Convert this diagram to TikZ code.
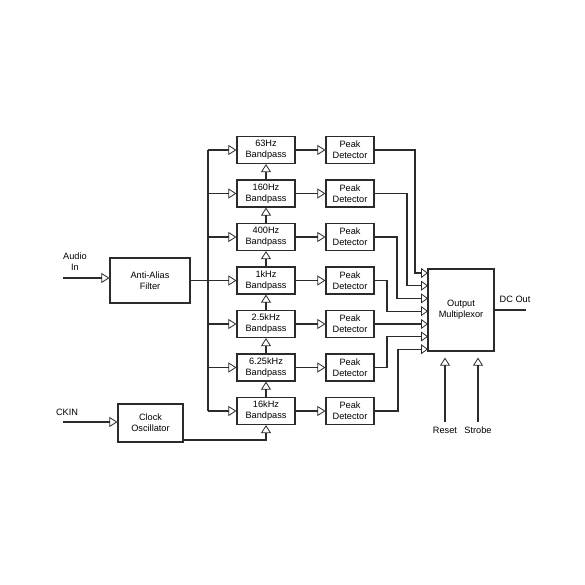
\documentclass[tikz,border=0pt]{standalone}
\usepackage{fontspec}
\setsansfont{Liberation Sans}
\usepackage{tikz}
\usetikzlibrary{arrows.meta, positioning}
\definecolor{Ink}{HTML}{2B2B2B}

\begin{document}
\begin{tikzpicture}[
  x=1pt, y=-1pt,
  font=\sffamily\fontsize{9.2}{10.8}\selectfont,
  block/.style={draw=Ink, line width=1.2pt, align=center, inner sep=0pt, fill=white},
  filt/.style={block, minimum width=58pt, minimum height=27pt},
  peak/.style={block, minimum width=48pt, minimum height=27pt},
  wire/.style={draw=Ink, line width=1.2pt},
  arrow/.style={wire, -{Triangle[open, length=8pt, width=10pt, line width=0.8pt]}},
  muxin/.style={wire, -{Triangle[open, length=7pt, width=10pt, line width=0.8pt]}}
]
\useasboundingbox[fill=white] (0,0) rectangle (585,585);

% input side
\node[block, minimum width=80pt, minimum height=45pt] (aa) at (150,280.5) {Anti-Alias\\Filter};
\node[block, minimum width=65pt, minimum height=38pt] (osc) at (150.5,423) {Clock\\Oscillator};
\node[align=center] (audiotxt) at (75,262) {Audio\\In};
\node (ckintxt) at (67,412) {CKIN};
\coordinate (audio) at (63,278);
\coordinate (ckin) at (63,422);

% filter bank
\node[filt] (bp1) at (266,150) {63Hz\\Bandpass};
\node[filt] (bp2) at (266,193.5) {160Hz\\Bandpass};
\node[filt] (bp3) at (266,237) {400Hz\\Bandpass};
\node[filt] (bp4) at (266,280.5) {1kHz\\Bandpass};
\node[filt] (bp5) at (266,324) {2.5kHz\\Bandpass};
\node[filt] (bp6) at (266,367.5) {6.25kHz\\Bandpass};
\node[filt] (bp7) at (266,411) {16kHz\\Bandpass};

\node[peak] (pd1) at (350,150) {Peak\\Detector};
\node[peak] (pd2) at (350,193.5) {Peak\\Detector};
\node[peak] (pd3) at (350,237) {Peak\\Detector};
\node[peak] (pd4) at (350,280.5) {Peak\\Detector};
\node[peak] (pd5) at (350,324) {Peak\\Detector};
\node[peak] (pd6) at (350,367.5) {Peak\\Detector};
\node[peak] (pd7) at (350,411) {Peak\\Detector};

% output side
\node[block, minimum width=66pt, minimum height=82pt] (mux) at (461,310) {Output\\Multiplexor};
\node (dctxt) at (515,299) {DC Out};
\node (resettxt) at (445,430) {Reset};
\node (strobetxt) at (478,430) {Strobe};
\coordinate (dc) at (526,310);
\coordinate (reset) at (445,422);
\coordinate (strobe) at (478,422);
\coordinate (bustop) at (208,150);
\coordinate (busbot) at (208,411);
\coordinate (m1) at (428,273);
\coordinate (m2) at (428,285.7);
\coordinate (m3) at (428,298.4);
\coordinate (m4) at (428,311.1);
\coordinate (m5) at (428,324);
\coordinate (m6) at (428,336.5);
\coordinate (m7) at (428,349.2);

\draw[arrow] (audio) -- (audio -| aa.west);
\draw[arrow] (ckin) -- (ckin -| osc.west);
\draw[wire] (aa.east) -- (aa.east -| bustop);
\draw[wire] (bustop) -- (busbot);
\draw[arrow] (bp1.west -| bustop) -- (bp1.west);
\draw[arrow] (bp2.west -| bustop) -- (bp2.west);
\draw[arrow] (bp3.west -| bustop) -- (bp3.west);
\draw[arrow] (bp4.west -| bustop) -- (bp4.west);
\draw[arrow] (bp5.west -| bustop) -- (bp5.west);
\draw[arrow] (bp6.west -| bustop) -- (bp6.west);
\draw[arrow] (bp7.west -| bustop) -- (bp7.west);

% clock chain
\draw[arrow] ([yshift=-17pt]osc.east) -| (bp7.south);
\draw[arrow] (bp7.north) -- (bp6.south);
\draw[arrow] (bp6.north) -- (bp5.south);
\draw[arrow] (bp5.north) -- (bp4.south);
\draw[arrow] (bp4.north) -- (bp3.south);
\draw[arrow] (bp3.north) -- (bp2.south);
\draw[arrow] (bp2.north) -- (bp1.south);

\draw[arrow] (bp1) -- (pd1);
\draw[arrow] (bp2) -- (pd2);
\draw[arrow] (bp3) -- (pd3);
\draw[arrow] (bp4) -- (pd4);
\draw[arrow] (bp5) -- (pd5);
\draw[arrow] (bp6) -- (pd6);
\draw[arrow] (bp7) -- (pd7);

% detectors to multiplexor
\draw[muxin] (pd1.east) -| ([xshift=-13pt]m1) -- (m1);
\draw[muxin] (pd2.east) -| ([xshift=-21pt]m2) -- (m2);
\draw[muxin] (pd3.east) -| ([xshift=-31pt]m3) -- (m3);
\draw[muxin] (pd4.east) -| ([xshift=-41pt]m4) -- (m4);
\draw[muxin] (pd5.east) -- (m5);
\draw[muxin] (pd6.east) -| ([xshift=-41pt]m6) -- (m6);
\draw[muxin] (pd7.east) -| ([xshift=-30pt]m7) -- (m7);

\draw[wire] (mux.east) -- (dc);
\draw[arrow] (reset) -- ([yshift=-6pt]reset |- mux.south);
\draw[arrow] (strobe) -- ([yshift=-6pt]strobe |- mux.south);
\end{tikzpicture}
\end{document}
